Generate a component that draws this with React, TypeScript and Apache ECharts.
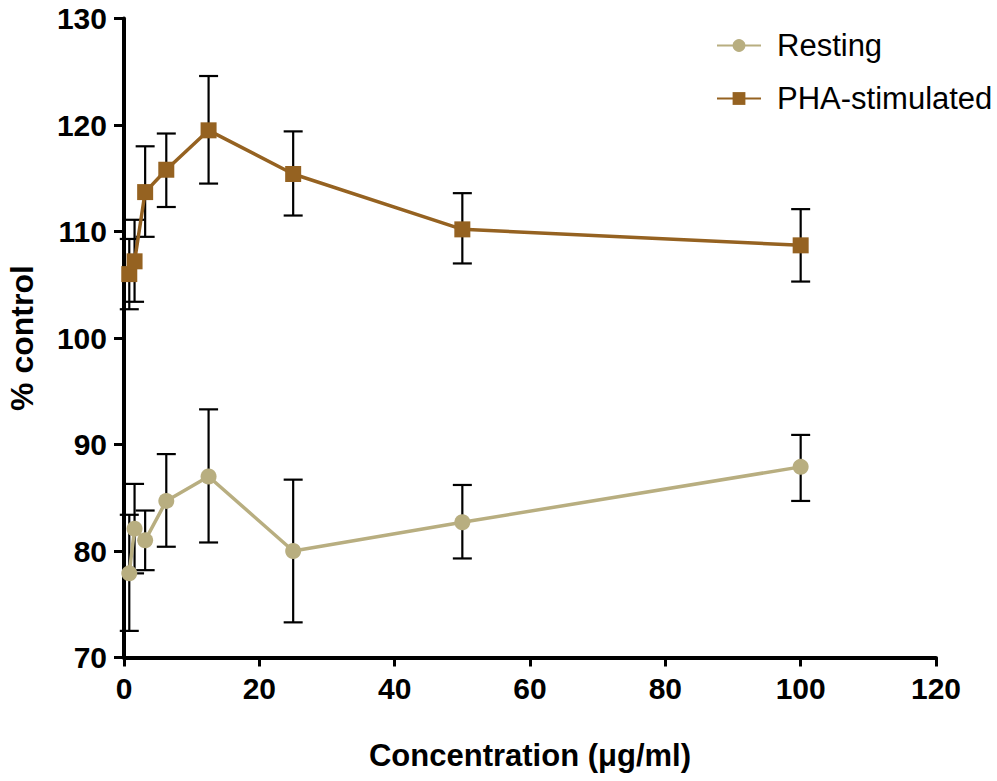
import React, { useEffect, useRef } from "react";
import * as echarts from "echarts";

const concentrations = [0.78, 1.56, 3.125, 6.25, 12.5, 25, 50, 100];
const restingMean = [77.9, 82.1, 81.0, 84.7, 87.0, 80.0, 82.7, 87.9];
const restingLow = [72.5, 77.9, 78.2, 80.4, 80.8, 73.3, 79.3, 84.7];
const restingHigh = [83.4, 86.3, 83.8, 89.1, 93.3, 86.7, 86.2, 90.9];
const phaMean = [106.0, 107.2, 113.7, 115.8, 119.5, 115.4, 110.2, 108.7];
const phaLow = [102.7, 103.4, 109.5, 112.3, 114.5, 111.5, 107.0, 105.3];
const phaHigh = [109.3, 111.1, 118.0, 119.2, 124.6, 119.4, 113.6, 112.1];

const RESTING_COLOR = "#B8AE80";
const PHA_COLOR = "#956221";
const FONT = "Liberation Sans, Arial, Helvetica, sans-serif";

function errorSeries(low: number[], high: number[]) {
  return {
    type: "custom",
    z: 1,
    silent: true,
    data: concentrations.map((x, i) => [x, low[i], high[i]]),
    encode: { x: 0, y: [1, 2] },
    renderItem: (params: any, api: any) => {
      const x = api.value(0);
      const lo = api.coord([x, api.value(1)]);
      const hi = api.coord([x, api.value(2)]);
      const hw = 9.5;
      const style = { stroke: "#000", lineWidth: 2.2 };
      return {
        type: "group",
        children: [
          { type: "line", shape: { x1: lo[0], y1: lo[1], x2: hi[0], y2: hi[1] }, style },
          { type: "line", shape: { x1: lo[0] - hw, y1: lo[1], x2: lo[0] + hw, y2: lo[1] }, style },
          { type: "line", shape: { x1: hi[0] - hw, y1: hi[1], x2: hi[0] + hw, y2: hi[1] }, style },
        ],
      };
    },
  };
}

export default function App() {
  const ref = useRef<HTMLDivElement>(null);
  useEffect(() => {
    if (!ref.current) return;
    const chart = echarts.init(ref.current, null, { renderer: "svg" });
    chart.setOption({
      animation: false,
      backgroundColor: "#ffffff",
      grid: {
        left: 124,
        right: 61,
        top: 18.5,
        bottom: 123.5,
        containLabel: false,
        outerBoundsMode: "none",
      },
      legend: {
        orient: "vertical",
        left: 711,
        top: 25,
        itemWidth: 44,
        itemHeight: 16,
        itemGap: 22,
        data: ["Resting", "PHA-stimulated"],
        textStyle: {
          fontFamily: FONT,
          fontSize: 31,
          color: "#000",
          padding: [0, 0, 0, 11],
        },
      },
      xAxis: {
        type: "value",
        min: 0,
        max: 120,
        interval: 20,
        name: "Concentration (\u03bcg/ml)",
        nameLocation: "middle",
        nameGap: 82,
        nameTextStyle: { fontFamily: FONT, fontSize: 31, fontWeight: "bold", color: "#000" },
        splitLine: { show: false },
        axisLine: { show: true, lineStyle: { color: "#000", width: 4 } },
        axisTick: { show: true, length: 9, lineStyle: { color: "#000", width: 3 } },
        axisLabel: { fontFamily: FONT, fontSize: 30, fontWeight: "bold", color: "#000", margin: 16 },
      },
      yAxis: {
        type: "value",
        min: 70,
        max: 130,
        interval: 10,
        name: "% control",
        nameLocation: "middle",
        nameGap: 86,
        nameTextStyle: { fontFamily: FONT, fontSize: 32, fontWeight: "bold", color: "#000" },
        splitLine: { show: false },
        axisLine: { show: true, lineStyle: { color: "#000", width: 4 } },
        axisTick: { show: true, length: 10, lineStyle: { color: "#000", width: 3 } },
        axisLabel: { fontFamily: FONT, fontSize: 30, fontWeight: "bold", color: "#000", margin: 17 },
      },
      series: [
        errorSeries(restingLow, restingHigh),
        errorSeries(phaLow, phaHigh),
        {
          name: "Resting",
          type: "line",
          z: 3,
          data: concentrations.map((x, i) => [x, restingMean[i]]),
          symbol: "circle",
          symbolSize: 16,
          lineStyle: { color: RESTING_COLOR, width: 3.5 },
          itemStyle: { color: RESTING_COLOR },
        },
        {
          name: "PHA-stimulated",
          type: "line",
          z: 3,
          data: concentrations.map((x, i) => [x, phaMean[i]]),
          symbol: "rect",
          symbolSize: 16,
          lineStyle: { color: PHA_COLOR, width: 3.5 },
          itemStyle: { color: PHA_COLOR },
        },
      ],
    });
    return () => chart.dispose();
  }, []);
  return (
    <div
      ref={ref}
      style={{ position: "fixed", left: 0, top: 0, width: 997, height: 781, background: "#fff" }}
    />
  );
}
